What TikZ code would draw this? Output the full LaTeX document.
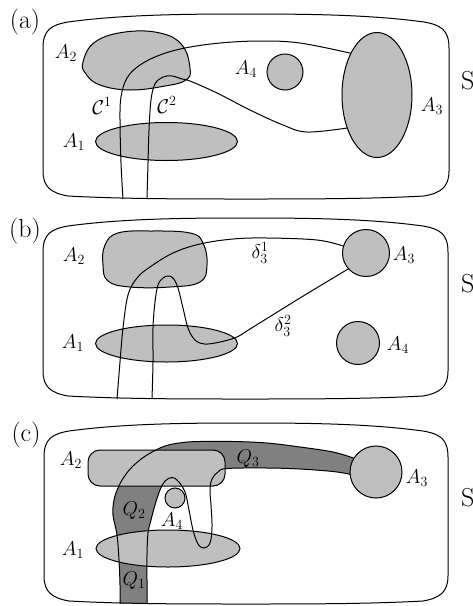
\documentclass[tikz,border=0pt]{standalone}
\usepackage{fix-cm}
\usetikzlibrary{shapes.geometric}
\tikzset{
  reg/.style={draw, fill=black!25, line width=1pt, inner sep=0pt, outer sep=0pt},
  circ/.style={reg, circle},
  ell/.style={reg, ellipse},
  lab/.style={font=\fontsize{20}{23}\selectfont, inner sep=0pt},
  big/.style={font=\fontsize{26}{30}\selectfont, inner sep=0pt},
  curve/.style={line width=1pt},
  framebox/.style={line width=1pt},
  qfill/.style={fill=black!50},
}
\newcommand\myframe[4]{%
 \draw[framebox] ({#1},{#2+34}) .. controls ({#1},{#2+16}) and ({#1+8},{#2+11}) .. ({#1+25},{#2+8})
  .. controls ({#1+80},{#2+0.5}) and ({(#1+#3)/2-60},{#2}) .. ({(#1+#3)/2},{#2})
  .. controls ({(#1+#3)/2+60},{#2}) and ({#3-80},{#2+0.5}) .. ({#3-25},{#2+8})
  .. controls ({#3-8},{#2+11}) and ({#3},{#2+16}) .. ({#3},{#2+34})
  -- ({#3},{#4-28}) .. controls ({#3},{#4-12}) and ({#3-8},{#4-6}) .. ({#3-25},{#4-3})
  .. controls ({#3-80},{#4}) and ({(#1+#3)/2+60},{#4}) .. ({(#1+#3)/2},{#4})
  .. controls ({(#1+#3)/2-60},{#4}) and ({#1+80},{#4}) .. ({#1+25},{#4-3})
  .. controls ({#1+8},{#4-6}) and ({#1},{#4-12}) .. ({#1},{#4-28}) -- cycle;}
\begin{document}
\begin{tikzpicture}[x=1pt,y=-1pt]
\useasboundingbox (0,0) rectangle (473,606);

% ---------------- (a) ----------------
\myframe{43}{14}{449}{199}
\node[big] (la) at (25,22) {(a)};
\node[big, anchor=west] (sa) at (461,81) {S};
\filldraw[reg] plot[smooth cycle, tension=0.7] coordinates {(83,62) (95,42) (125,32) (160,33) (182,45) (190,68) (186,80) (165,86) (130,90) (100,85) (86,74)};
\node[ell, minimum width=142pt, minimum height=38pt] (a-a1) at (166.5,141.5) {};
\node[ell, minimum width=70pt, minimum height=125pt] (a-a3) at (377,95) {};
\node[circ, minimum size=36pt] (a-a4) at (285,72) {};
\draw[curve] plot[smooth, tension=0.6] coordinates {(123,199) (121,163) (120,120) (121,97) (127,78) (140,65) (160,55) (185,48) (220,43) (260,41) (300,43) (a-a3.122)};
\draw[curve] plot[smooth, tension=0.6] coordinates {(147,199) (148,163) (149,130) (151,100) (155,84) (163,77) (172,76) (182,79) (190,81) (217,93) (250,110) (283,125) (307,132) (a-a3.228)};
\node[lab] (a-l2) at (66,53) {$A_2$};
\node[lab] (a-l1) at (74,142) {$A_1$};
\node[lab] (a-l4) at (246,69) {$A_4$};
\node[lab] (a-l3) at (432,106) {$A_3$};
\node[lab] (a-c1) at (102,106) {$\mathcal{C}^1$};
\node[lab] (a-c2) at (167,105) {$\mathcal{C}^2$};

% ---------------- (b) ----------------
\myframe{43}{218}{448}{399}
\node[big] (lb) at (25,231) {(b)};
\node[big, anchor=west] (sb) at (461,284) {S};
\filldraw[reg] plot[smooth cycle, tension=0.7] coordinates {(105,245) (118,233) (150,231) (190,233) (203,243) (207,265) (200,282) (170,287) (130,287) (108,281) (103,265)};
\node[ell, minimum width=142pt, minimum height=37pt] (b-a1) at (166.5,343.5) {};
\node[circ, minimum size=47pt] (b-a3) at (366,253) {};
\node[circ, minimum size=43pt] (b-a4) at (358,343) {};
\draw[curve] plot[smooth, tension=0.6] coordinates {(117,399) (120,362) (123,328) (128,295) (137,278) (150,267) (173,253) (200,244) (233,239) (267,238) (317,240) (b-a3.163)};
\draw[curve] plot[smooth, tension=0.6] coordinates {(152,399) (153,362) (153,328) (155,302) (158,285) (163,278) (168,276) (173,278) (178,288) (183,308) (188,328) (195,340) (205,344) (220,342) (237,337) (250,329) (300,298) (b-a3.222)};
\node[lab] (b-l2) at (74,256) {$A_2$};
\node[lab] (b-l1) at (73,343) {$A_1$};
\node[lab] (b-l3) at (404,255) {$A_3$};
\node[lab] (b-l4) at (398,345) {$A_4$};
\node[lab] (b-d1) at (260,253) {$\delta_3^1$};
\node[lab] (b-d2) at (283,326) {$\delta_3^2$};

% ---------------- (c) ----------------
\node[big] (lc) at (26,435) {(c)};
\node[big, anchor=west] (sc) at (461,498) {S};
\coordinate (c-a3c) at (376,472);
\coordinate (c-e1) at (354,458.2);
\coordinate (c-e2) at (350.1,474.3);
\fill[qfill] plot[smooth, tension=0.6] coordinates {(120,603.5) (120,585) (119,560) (117,535) (113,515) (114,500) (118,488) (124,477) (133,466) (147,455) (165,446) (183,442.5) (200,441.5) (233,441.5) (267,443) (300,447) (333,452) (c-e1)}
  -- (c-a3c) -- plot[smooth, tension=0.6] coordinates {(c-e2) (333,471.5) (300,469) (267,468) (227,468.5) (218,472) (212,479)}
  -- plot[smooth, tension=0.6] coordinates {(165,481) (160,490) (155,505) (151,520) (148,533) (147,555) (147,580) (147,603.5)} -- cycle;
\node[reg, rectangle, rounded corners=12pt, minimum width=137pt, minimum height=36pt] (c-a2) at (156.5,468) {};
\node[ell, minimum width=144pt, minimum height=37pt] (c-a1) at (168,548.5) {};
\node[circ, minimum size=52pt] (c-a3) at (c-a3c) {};
\node[circ, minimum size=20pt] (c-a4) at (175,498) {};
\draw[curve] plot[smooth, tension=0.6] coordinates {(120,603.5) (120,585) (119,560) (117,535) (113,515) (114,500) (118,488) (124,477) (133,466) (147,455) (165,446) (183,442.5) (200,441.5) (233,441.5) (267,443) (300,447) (333,452) (c-a3.148)};
\draw[curve] plot[smooth, tension=0.6] coordinates {(147,603.5) (147,580) (147,555) (148,533) (151,520) (155,505) (160,490) (165,481) (172,477.5) (178,481) (185,492) (189,510) (193,530) (198,544) (204,548) (210,543) (212,527) (211,505) (210,490) (212,479) (218,472) (227,468.5) (267,468) (300,469) (333,471.5) (c-a3.185)};
\node[lab] (c-l2) at (71,460) {$A_2$};
\node[lab] (c-l1) at (73,550) {$A_1$};
\node[lab] (c-l3) at (417,478) {$A_3$};
\node[lab] (c-l4) at (172,521) {$A_4$};
\node[lab] (c-q1) at (134,581) {$Q_1$};
\node[lab] (c-q2) at (134,511) {$Q_2$};
\node[lab] (c-q3) at (248,459) {$Q_3$};
\myframe{44}{423}{448}{604}
\end{tikzpicture}
\end{document}
